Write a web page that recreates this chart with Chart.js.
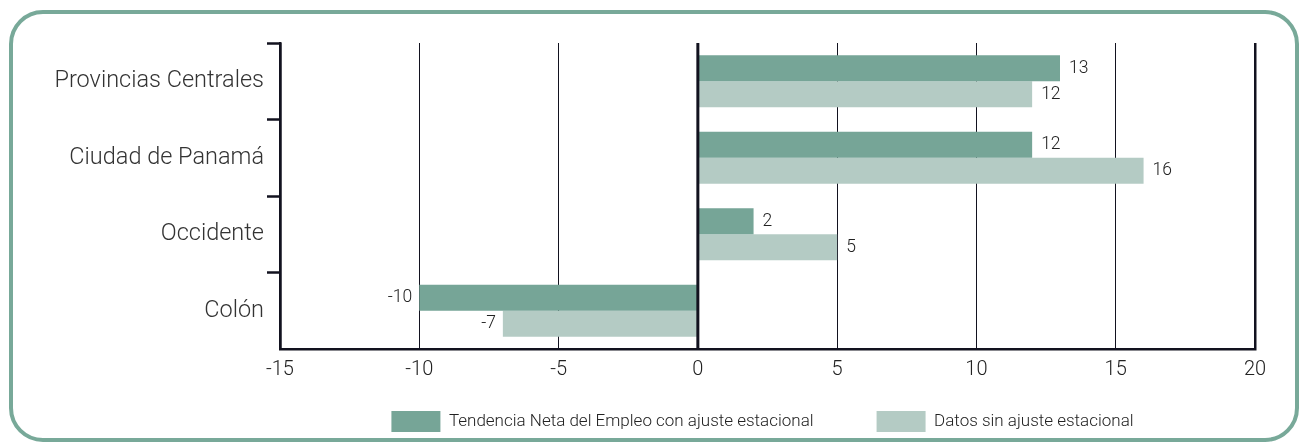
<!DOCTYPE html>
<html>
<head>
<meta charset="utf-8">
<script src="https://cdn.jsdelivr.net/npm/chart.js@4.4.1/dist/chart.umd.min.js"></script>
<style>
  html, body { margin: 0; padding: 0; background: #fff; }
  #frame {
    position: absolute; left: 9px; top: 10px; width: 1290px; height: 432px;
    box-sizing: border-box; border: 4px solid #78a999; border-radius: 34px;
  }
  #wrap { position: absolute; left: 0; top: 0; width: 1301px; height: 444px; }
</style>
</head>
<body>
<div id="frame"></div>
<div id="wrap"><canvas id="chart"></canvas></div>
<script>
const regions = ['Provincias Centrales', 'Ciudad de Panamá', 'Occidente', 'Colón'];
const seasonalAdj = [13, 12, 2, -10];
const unadjusted = [12, 16, 5, -7];
const xTicks = [-15, -10, -5, 0, 5, 10, 15, 20];

const ink = '#12121f';
const fontFamily = "'Helvetica Neue', Roboto, 'Liberation Sans', sans-serif";
const legendGap = 63;

// value labels next to each bar end, plus the heavy zero line on top of bars
const barLabels = {
  id: 'barLabels',
  afterLayout(chart) {
    // legend padding doubles as the wide gap between items; pull the box up
    const lg = chart.legend;
    lg.top = chart.chartArea.bottom + 62 - legendGap;
    lg.bottom = chart.height;
    lg.height = lg.bottom - lg.top;
    lg.left -= 5;
    lg.right -= 5;
  },
  afterDatasetsDraw(chart) {
    const ctx = chart.ctx;
    const x = chart.scales.x;
    const area = chart.chartArea;
    ctx.save();
    ctx.strokeStyle = ink;
    ctx.lineWidth = 3;
    const zx = x.getPixelForValue(0);
    ctx.beginPath();
    ctx.moveTo(zx, area.top);
    ctx.lineTo(zx, area.bottom);
    ctx.stroke();

    ctx.font = '300 17.5px ' + fontFamily;
    ctx.fillStyle = '#222';
    ctx.textBaseline = 'middle';
    chart.data.datasets.forEach((ds, di) => {
      chart.getDatasetMeta(di).data.forEach((bar, i) => {
        const v = ds.data[i];
        if (v >= 0) {
          ctx.textAlign = 'left';
          ctx.fillText(v, bar.x + 9, bar.y);
        } else {
          ctx.textAlign = 'right';
          ctx.fillText(v, bar.x - 7, bar.y);
        }
      });
    });
    ctx.restore();
  }
};

new Chart(document.getElementById('chart'), {
  type: 'bar',
  data: {
    labels: regions,
    datasets: [{
      label: 'Tendencia Neta del Empleo con ajuste estacional',
      data: seasonalAdj,
      backgroundColor: '#76a597',
      categoryPercentage: 0.68,
      barPercentage: 1
    }, {
      label: 'Datos sin ajuste estacional',
      data: unadjusted,
      backgroundColor: '#b4cbc4',
      categoryPercentage: 0.68,
      barPercentage: 1
    }]
  },
  options: {
    indexAxis: 'y',
    responsive: true,
    maintainAspectRatio: false,
    animation: false,
    layout: { padding: { top: 43, right: 46, bottom: 1, left: 0 } },
    plugins: {
      tooltip: { enabled: false },
      legend: {
        position: 'bottom',
        fullSize: false,
        maxHeight: 62,
        labels: {
          boxWidth: 49,
          boxHeight: 21,
          padding: legendGap,
          color: '#222',
          font: { family: fontFamily, size: 17, weight: '300' }
        }
      }
    },
    scales: {
      x: {
        min: -15,
        max: 20,
        afterBuildTicks: (scale) => { scale.ticks = xTicks.map(v => ({ value: v })); },
        afterFit: (scale) => { scale.height = 32; },
        ticks: {
          color: '#222',
          padding: 9,
          font: { family: fontFamily, size: 20, weight: '300' }
        },
        grid: {
          drawTicks: false,
          color: ink,
          lineWidth: (c) => (c.tick && (c.tick.value === -15 || c.tick.value === 20)) ? 2.5 : 1
        },
        border: { display: true, color: ink, width: 2.5 }
      },
      y: {
        afterFit: (scale) => { scale.width = 280; },
        ticks: {
          color: '#333',
          padding: 3,
          font: { family: fontFamily, size: 23.5, weight: '300' }
        },
        grid: {
          offset: true,
          drawOnChartArea: false,
          drawTicks: true,
          tickLength: 13,
          tickWidth: 2.5,
          tickColor: (c) => c.tick ? ink : 'rgba(0,0,0,0)'
        },
        border: { display: true, color: ink, width: 2.5 }
      }
    }
  },
  plugins: [barLabels]
});
</script>
</body>
</html>
